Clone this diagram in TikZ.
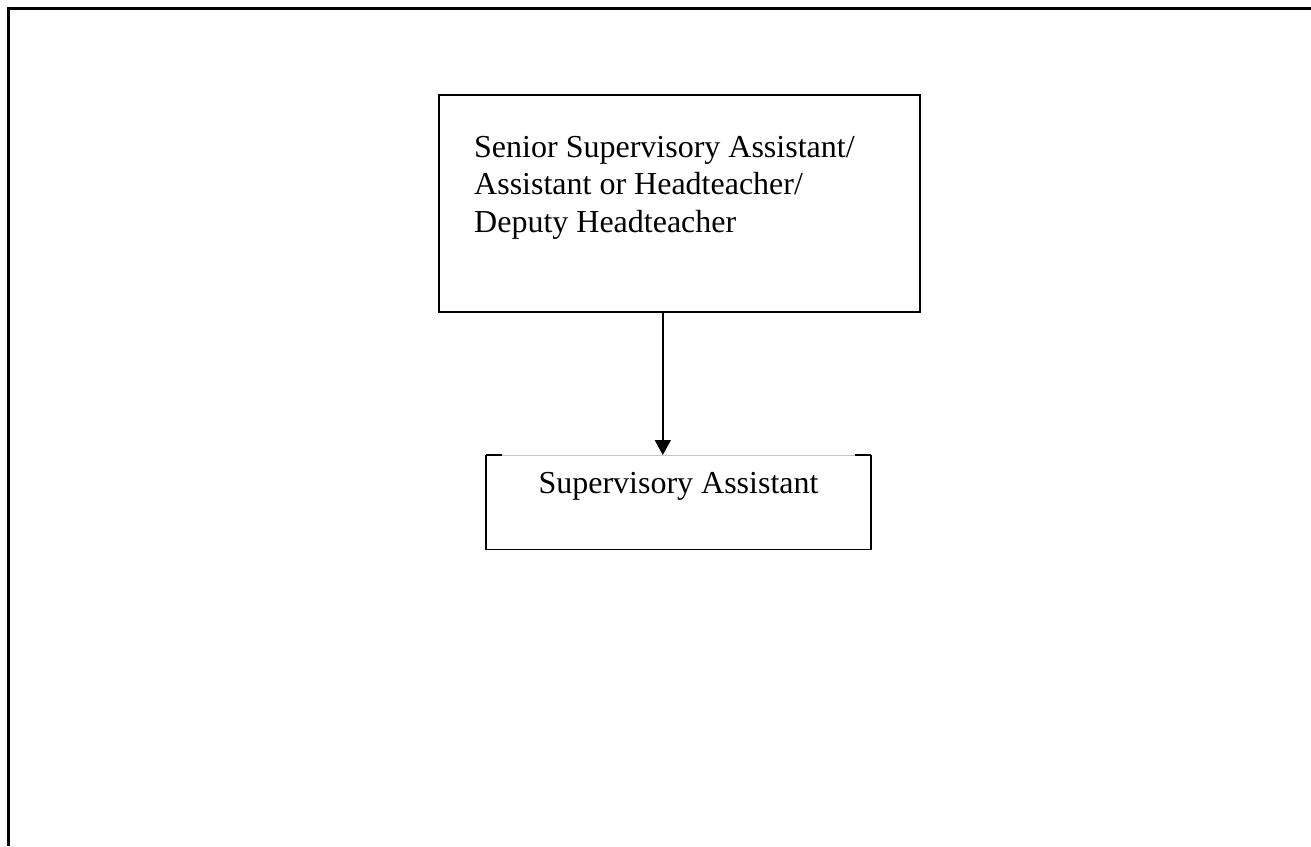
\documentclass[tikz,border=0pt]{standalone}
\usepackage{fontspec}
\setmainfont{Liberation Serif}
\usetikzlibrary{positioning,arrows.meta}
\begin{document}
\begin{tikzpicture}[x=1pt,y=-1pt,
		frame/.style={line width=3pt},
		post/.style={line width=1.6pt},
		lbl/.style={font=\fontsize{32}{37.5}\selectfont,inner sep=0pt}]
	\useasboundingbox (0,0) rectangle (1311,846);
	% open frame round the chart
	\draw[frame] (8,846) -- (8,8.5) -- (1311,8.5);
	\node[draw,post,minimum width=481pt,minimum height=217pt,anchor=north west] (senior) at (438,94) {};
	\node[lbl,align=left,anchor=north west,below right=42pt and 36pt of senior.north west] (seniortxt)
		{Senior Supervisory Assistant/\\Assistant or Headteacher/\\Deputy Headteacher};
	\node[lbl,minimum width=385pt,inner xsep=0pt,text height=38pt,text depth=56pt,anchor=north] (sup) at (678.5,455) {Supervisory Assistant};
	\draw[post] (sup.north west) -- (sup.south west) -- (sup.south east) -- (sup.north east);
	\draw[gray!45,line width=0.8pt] (sup.north west) -- (sup.north east);
	\draw[post] ([xshift=16pt]sup.north west) -- (sup.north west);
	\draw[post] ([xshift=-16pt]sup.north east) -- (sup.north east);
	\draw[post,-{Triangle[width=16pt,length=15pt]}] ([xshift=-16.5pt]senior.south) -- ([xshift=-16.5pt]senior.south |- sup.north);
\end{tikzpicture}
\end{document}
